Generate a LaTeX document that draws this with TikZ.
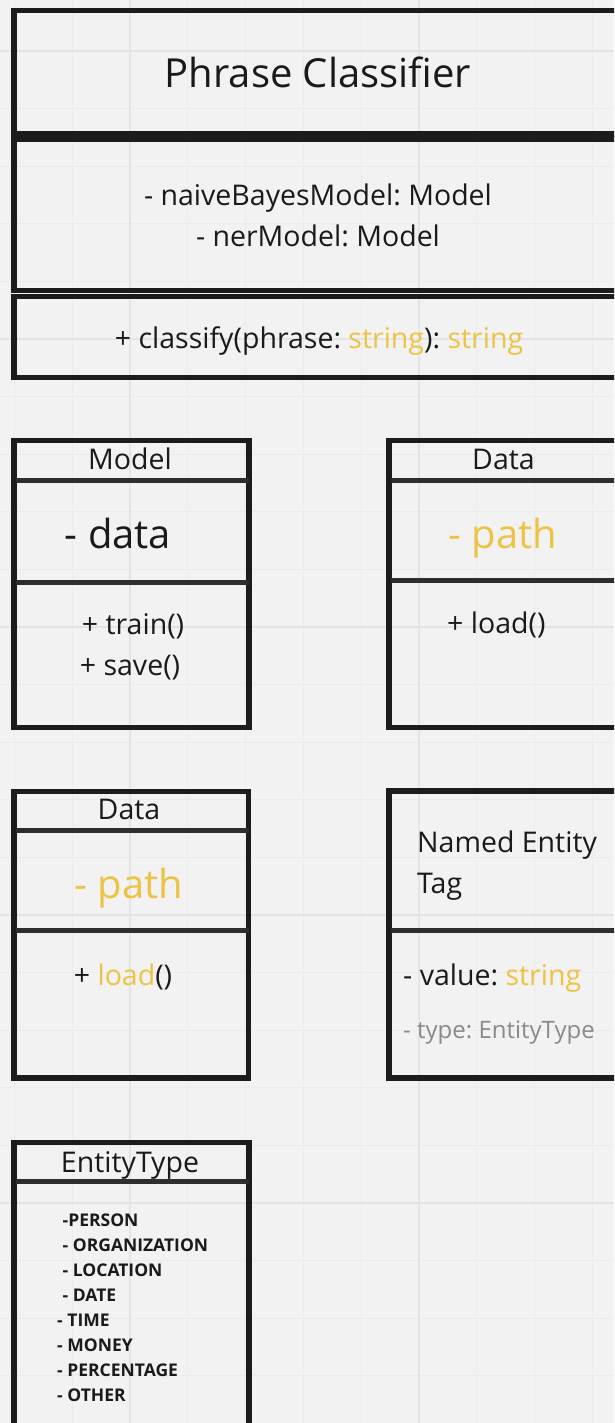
\documentclass[tikz,border=0pt]{standalone}
\usepackage{fontspec}
\setmainfont{Open Sans}
\frenchspacing

\definecolor{canvas}{HTML}{F2F2F2}
\definecolor{gridminor}{HTML}{EBEBEB}
\definecolor{gridmajor}{HTML}{E4E4E4}
\definecolor{boxline}{HTML}{1C1C1C}
\definecolor{divline}{HTML}{2E2E2E}
\definecolor{ink}{HTML}{1A1A1A}
\definecolor{hl}{HTML}{EEC344}
\definecolor{muted}{HTML}{8A8A8A}

\tikzset{
  frame/.style={draw=boxline, line width=5.5pt},
  divider/.style={draw=divline, line width=5pt},
  txt/.style={inner sep=0pt, text=ink, font=\fontsize{28.5}{34}\selectfont},
  bigtxt/.style={inner sep=0pt, text=ink, font=\fontsize{40}{48}\selectfont},
  smalltxt/.style={inner sep=0pt, text=muted, font=\fontsize{24}{29}\selectfont},
  enumtxt/.style={inner sep=0pt, text=ink, font=\bfseries\fontsize{17.5}{21}\selectfont, anchor=base west},
}

\begin{document}
\begin{tikzpicture}[x=1pt, y=-1pt]
  % page and canvas
  \useasboundingbox (0,0) rectangle (614,1423);
  \clip (0,0) rectangle (614,1423);
  \fill[canvas] (0,0) rectangle (614,1423);

  % board grid
  \foreach \k in {-2,...,8} {
    \draw[gridminor, line width=1.2pt] ({130+57.8*\k},0) -- ({130+57.8*\k},1423);
  }
  \foreach \k in {0,...,24} {
    \draw[gridminor, line width=1.2pt] (0,{51+57.6*\k}) -- (614,{51+57.6*\k});
  }
  \foreach \k in {0,1} {
    \draw[gridmajor, line width=1.8pt] ({130+289*\k},0) -- ({130+289*\k},1423);
  }
  \foreach \k in {0,...,4} {
    \draw[gridmajor, line width=1.8pt] (0,{51+288*\k}) -- (614,{51+288*\k});
  }

  % ---- PhraseClassifier: three stacked compartments ----
  \draw[frame] (14,10.5) rectangle (622,134);
  \draw[frame] (14,139) rectangle (622,290.5);
  \draw[frame] (14,296.5) rectangle (622,377.5);

  \node[bigtxt, anchor=base] (title) at (318,88) {Phrase Classifier};
  \node[txt, anchor=base] (attrA) at (318,206) {- naiveBayesModel: Model};
  \node[txt, anchor=base] (attrB) at (318,247) {- nerModel: Model};
  \node[txt, anchor=base] (op) at (319,348)
    {+ classify(phrase: \textcolor{hl}{string}): \textcolor{hl}{string}};

  % ---- Model ----
  \draw[frame] (14,440.5) rectangle (249,727.5);
  \draw[divider] (16,480.5) -- (249,480.5);
  \draw[divider] (16,582.5) -- (249,582.5);
  \node[txt, anchor=base] (modelH) at (130,469) {Model};
  \node[bigtxt, anchor=base] (modelA) at (118,548) {- data};
  \node[txt, anchor=base] (modelO1) at (133,634) {+ train()};
  \node[txt, anchor=base] (modelO2) at (130,675) {+ save()};

  % ---- Data (right) ----
  \draw[frame] (389,440.5) rectangle (625,727.5);
  \draw[divider] (391,480.5) -- (625,480.5);
  \draw[divider] (391,580) -- (625,580);
  \node[txt, anchor=base] (dataRH) at (503.5,469) {Data};
  \node[bigtxt, anchor=base, text=hl] (dataRA) at (503,548) {- path};
  \node[txt, anchor=base west] (dataRO) at (447,633) {+ load()};

  % ---- Data (left) ----
  \draw[frame] (14,791.5) rectangle (248.5,1078);
  \draw[divider] (16,830) -- (248.5,830);
  \draw[divider] (16,930.5) -- (248.5,930.5);
  \node[txt, anchor=base] (dataLH) at (129,819) {Data};
  \node[bigtxt, anchor=base, text=hl] (dataLA) at (129,898) {- path};
  \node[txt, anchor=base] (dataLO) at (123,985) {+ \textcolor{hl}{load}()};

  % ---- Named Entity Tag ----
  \draw[frame] (389,791) rectangle (625,1078);
  \draw[divider] (391,930.5) -- (625,930.5);
  \node[txt, anchor=base west] (tagH1) at (417,852) {Named Entity};
  \node[txt, anchor=base west] (tagH2) at (417,893) {Tag};
  \node[txt, anchor=base west] (tagA1) at (403,985) {- value: \textcolor{hl}{string}};
  \node[smalltxt, anchor=base west] (tagA2) at (403,1038) {- type: EntityType};

  % ---- EntityType ----
  \draw[frame] (14,1142.5) rectangle (249,1445);
  \draw[divider] (16,1181.5) -- (249,1181.5);
  \node[txt, anchor=base] (etypeH) at (130,1172) {EntityType};
  \node[enumtxt] (e1) at (62.5,1226) {-PERSON};
  \node[enumtxt] (e2) at (62.5,1251) {- ORGANIZATION};
  \node[enumtxt] (e3) at (62.5,1276) {- LOCATION};
  \node[enumtxt] (e4) at (62.5,1301) {- DATE};
  \node[enumtxt] (e5) at (57,1326) {- TIME};
  \node[enumtxt] (e6) at (57,1351) {- MONEY};
  \node[enumtxt] (e7) at (57,1376) {- PERCENTAGE};
  \node[enumtxt] (e8) at (57,1401) {- OTHER};
\end{tikzpicture}
\end{document}
